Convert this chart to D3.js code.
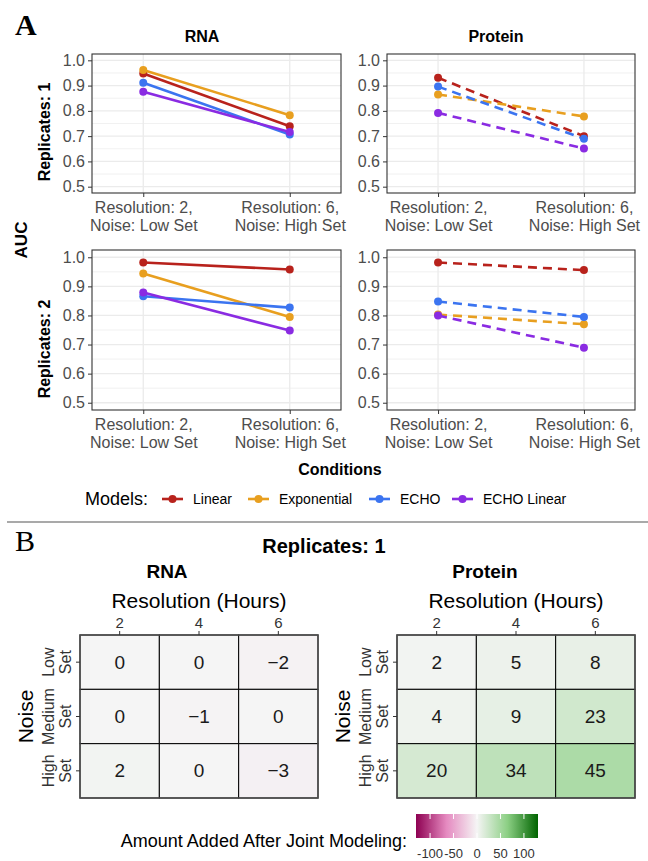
<!DOCTYPE html>
<html>
<head>
<meta charset="utf-8">
<script src="https://cdn.jsdelivr.net/npm/d3@7/dist/d3.min.js"></script>
<style>
  body { margin: 0; background: #fff; }
  text { font-family: "Liberation Sans", Arial, sans-serif; }
</style>
</head>
<body>
<div id="chart"></div>
<script>
// ---- data ----
const models = ["Linear", "Exponential", "ECHO", "ECHO Linear"];
const modelColors = ["#b8221c", "#e89f1f", "#3b74f0", "#8a2be2"];
const conditions = ["Resolution: 2,|Noise: Low Set", "Resolution: 6,|Noise: High Set"];
const aucTicks = [0.5, 0.6, 0.7, 0.8, 0.9, 1.0];

// AUC per model (same order as models), at each condition
const rnaRep1 = [[0.948, 0.739], [0.962, 0.783], [0.911, 0.706], [0.876, 0.716]];
const proteinRep1 = [[0.931, 0.700], [0.865, 0.778], [0.896, 0.690], [0.792, 0.651]];
const rnaRep2 = [[0.982, 0.958], [0.944, 0.795], [0.866, 0.827], [0.879, 0.748]];
const proteinRep2 = [[0.982, 0.956], [0.803, 0.770], [0.848, 0.795], [0.800, 0.689]];

const resolutions = [2, 4, 6];
const noiseLevels = ["Low|Set", "Medium|Set", "High|Set"];
const rnaAdded = [[0, 0, -2], [0, -1, 0], [2, 0, -3]];
const proteinAdded = [[2, 5, 8], [4, 9, 23], [20, 34, 45]];
const fillTicks = [-100, -50, 0, 50, 100];
const fillLimits = [-130, 130];

// ---- chart ----
var width = 648, height = 861;
var svg = d3.select("#chart").append("svg")
  .attr("width", width).attr("height", height)
  .style("background", "#fff");

// panel labels
svg.append("text").attr("x", 15).attr("y", 35)
  .style("font-family", "Liberation Serif, serif").style("font-weight", "bold")
  .style("font-size", "30px").text("A");
svg.append("text").attr("x", 15).attr("y", 551)
  .style("font-family", "Liberation Serif, serif")
  .style("font-size", "30px").text("B");

var panels = [
  { vals: rnaRep1, x: 92, y: 54, w: 249, h: 139, dashed: false, title: "RNA", titleX: 202 },
  { vals: proteinRep1, x: 387, y: 54, w: 248, h: 139, dashed: true, title: "Protein", titleX: 496 },
  { vals: rnaRep2, x: 92, y: 250, w: 249, h: 160, dashed: false },
  { vals: proteinRep2, x: 387, y: 250, w: 248, h: 160, dashed: true }
];

var minorTicks = [0.55, 0.65, 0.75, 0.85, 0.95];

panels.forEach(function (p) {
  var g = svg.append("g").attr("transform", "translate(" + p.x + "," + p.y + ")");
  var x = d3.scalePoint().domain(conditions).range([0, p.w]).padding(0.35);
  var y = d3.scaleLinear().domain([0.475, 1.025]).range([p.h, 0]);

  // grid
  g.selectAll(".minor").data(minorTicks).enter().append("line")
    .attr("x1", 0).attr("x2", p.w).attr("y1", y).attr("y2", y)
    .attr("stroke", "#ebebeb").attr("stroke-width", 0.7);
  g.selectAll(".major").data(aucTicks).enter().append("line")
    .attr("x1", 0).attr("x2", p.w).attr("y1", y).attr("y2", y)
    .attr("stroke", "#ebebeb").attr("stroke-width", 1.3);
  g.selectAll(".vmajor").data(conditions).enter().append("line")
    .attr("x1", x).attr("x2", x).attr("y1", 0).attr("y2", p.h)
    .attr("stroke", "#ebebeb").attr("stroke-width", 1.3);

  // lines then points
  var line = d3.line().x(function (d, j) { return x(conditions[j]); }).y(function (d) { return y(d); });
  p.vals.forEach(function (v, i) {
    g.append("path").datum(v).attr("d", line)
      .attr("fill", "none").attr("stroke", modelColors[i]).attr("stroke-width", 2.6)
      .attr("stroke-dasharray", p.dashed ? "9,6" : null);
  });
  p.vals.forEach(function (v, i) {
    g.selectAll(null).data(v).enter().append("circle")
      .attr("cx", function (d, j) { return x(conditions[j]); })
      .attr("cy", function (d) { return y(d); })
      .attr("r", 4).attr("fill", modelColors[i]);
  });

  // border
  g.append("rect").attr("width", p.w).attr("height", p.h)
    .attr("fill", "none").attr("stroke", "#333").attr("stroke-width", 1.1);

  // axes
  var yAxis = g.append("g").call(d3.axisLeft(y).tickValues(aucTicks).tickFormat(d3.format(".1f")).tickSize(4).tickPadding(3));
  yAxis.select(".domain").remove();
  yAxis.selectAll("line").attr("stroke", "#333");
  yAxis.selectAll("text").attr("fill", "#4d4d4d").style("font-size", "16px");

  var xAxis = g.append("g").attr("transform", "translate(0," + p.h + ")")
    .call(d3.axisBottom(x).tickSize(4).tickFormat(""));
  xAxis.select(".domain").remove();
  xAxis.selectAll("line").attr("stroke", "#333");
  xAxis.selectAll(".tick").each(function (d) {
    var parts = d.split("|");
    var t = d3.select(this).append("text").attr("fill", "#4d4d4d")
      .attr("text-anchor", "middle").style("font-size", "16px");
    t.append("tspan").attr("x", 0).attr("y", 20).text(parts[0]);
    t.append("tspan").attr("x", 0).attr("y", 38).text(parts[1]);
  });

  if (p.title) {
    svg.append("text").attr("x", p.titleX).attr("y", 42).attr("text-anchor", "middle")
      .style("font-weight", "bold").style("font-size", "16px").text(p.title);
  }
});

// row labels and axis titles
svg.append("text").attr("transform", "translate(50,132) rotate(-90)").attr("text-anchor", "middle")
  .style("font-weight", "bold").style("font-size", "16px").text("Replicates: 1");
svg.append("text").attr("transform", "translate(50,349) rotate(-90)").attr("text-anchor", "middle")
  .style("font-weight", "bold").style("font-size", "16px").text("Replicates: 2");
svg.append("text").attr("transform", "translate(27,240) rotate(-90)").attr("text-anchor", "middle")
  .style("font-weight", "bold").style("font-size", "17px").text("AUC");
svg.append("text").attr("x", 340).attr("y", 475).attr("text-anchor", "middle")
  .style("font-weight", "bold").style("font-size", "16px").text("Conditions");

// legend
var legend = svg.append("g").attr("transform", "translate(0,499)");
legend.append("text").attr("x", 85).attr("y", 6).style("font-size", "18px").text("Models:");
var keyX = [162, 248, 369, 452];
models.forEach(function (m, i) {
  legend.append("line").attr("x1", keyX[i]).attr("x2", keyX[i] + 21).attr("y1", 0).attr("y2", 0)
    .attr("stroke", modelColors[i]).attr("stroke-width", 2.6);
  legend.append("circle").attr("cx", keyX[i] + 10.5).attr("cy", 0).attr("r", 4).attr("fill", modelColors[i]);
  legend.append("text").attr("x", keyX[i] + 31).attr("y", 5).style("font-size", "14px").text(m);
});

// separator
svg.append("line").attr("x1", 7).attr("x2", 648).attr("y1", 522).attr("y2", 522)
  .attr("stroke", "#8c8c8c").attr("stroke-width", 1.5);

// ---- panel B ----
svg.append("text").attr("x", 324).attr("y", 553).attr("text-anchor", "middle")
  .style("font-weight", "bold").style("font-size", "20px").text("Replicates: 1");

var fill = d3.scaleLinear()
  .domain([-130, -65, 0, 65, 130])
  .range(["#8e0152", "#e58ac0", "#f5f5f5", "#8ccf84", "#006400"]);

var heatmaps = [
  { vals: rnaAdded, x: 80, title: "RNA", titleX: 167 },
  { vals: proteinAdded, x: 397, title: "Protein", titleX: 485 }
];

heatmaps.forEach(function (h) {
  var w = 238, hh = 163, top = 635;
  var g = svg.append("g").attr("transform", "translate(" + h.x + "," + top + ")");
  var x = d3.scaleBand().domain(resolutions).range([0, w]);
  var y = d3.scaleBand().domain(noiseLevels).range([0, hh]);

  h.vals.forEach(function (row, r) {
    g.selectAll(null).data(row).enter().append("rect")
      .attr("x", function (d, c) { return x(resolutions[c]); })
      .attr("y", y(noiseLevels[r]))
      .attr("width", x.bandwidth()).attr("height", y.bandwidth())
      .attr("fill", function (d) { return fill(d); })
      .attr("stroke", "#000").attr("stroke-width", 1);
    g.selectAll(null).data(row).enter().append("text")
      .attr("x", function (d, c) { return x(resolutions[c]) + x.bandwidth() / 2; })
      .attr("y", y(noiseLevels[r]) + y.bandwidth() / 2 + 6.5)
      .attr("text-anchor", "middle").attr("fill", "#1a1a1a").style("font-size", "19px")
      .text(function (d) { return d < 0 ? "\u2212" + Math.abs(d) : d; });
  });
  g.append("rect").attr("width", w).attr("height", hh)
    .attr("fill", "none").attr("stroke", "#4d4d4d").attr("stroke-width", 1.5);

  var xAxis = g.append("g").call(d3.axisTop(x).tickSize(4).tickPadding(3));
  xAxis.select(".domain").remove();
  xAxis.selectAll("line").attr("stroke", "#333");
  xAxis.selectAll("text").attr("fill", "#333").style("font-size", "15px");

  var yAxis = g.append("g").call(d3.axisLeft(y).tickSize(4).tickFormat(""));
  yAxis.select(".domain").remove();
  yAxis.selectAll("line").attr("stroke", "#333");
  yAxis.selectAll(".tick").each(function (d) {
    var parts = d.split("|");
    var t = d3.select(this).append("text").attr("transform", "rotate(-90)")
      .attr("text-anchor", "middle").attr("fill", "#333").style("font-size", "16px");
    t.append("tspan").attr("x", 0).attr("y", -26).text(parts[0]);
    t.append("tspan").attr("x", 0).attr("y", -9).text(parts[1]);
  });

  svg.append("text").attr("x", h.titleX).attr("y", 578).attr("text-anchor", "middle")
    .style("font-weight", "bold").style("font-size", "19px").text(h.title);
  svg.append("text").attr("x", h.x + w / 2).attr("y", 608).attr("text-anchor", "middle")
    .style("font-size", "21px").text("Resolution (Hours)");
  svg.append("text").attr("transform", "translate(" + (h.x - 47) + "," + (top + hh / 2) + ") rotate(-90)")
    .attr("text-anchor", "middle").style("font-size", "21px").text("Noise");
});

// colour bar
var cb = { x: 416, y: 814, w: 122, h: 24 };
var cbScale = d3.scaleLinear().domain(fillLimits).range([cb.x, cb.x + cb.w]);
var grad = svg.append("defs").append("linearGradient").attr("id", "cbgrad");
d3.range(0, 1.0001, 0.05).forEach(function (t) {
  grad.append("stop").attr("offset", t)
    .attr("stop-color", fill(fillLimits[0] + t * (fillLimits[1] - fillLimits[0])));
});
svg.append("rect").attr("x", cb.x).attr("y", cb.y).attr("width", cb.w).attr("height", cb.h)
  .attr("fill", "url(#cbgrad)");
fillTicks.forEach(function (v) {
  var xx = cbScale(v);
  svg.append("line").attr("x1", xx).attr("x2", xx).attr("y1", cb.y).attr("y2", cb.y + 5)
    .attr("stroke", "#fff").attr("stroke-width", 1);
  svg.append("line").attr("x1", xx).attr("x2", xx).attr("y1", cb.y + cb.h - 5).attr("y2", cb.y + cb.h)
    .attr("stroke", "#fff").attr("stroke-width", 1);
  svg.append("text").attr("x", xx).attr("y", 858).attr("text-anchor", "middle")
    .attr("fill", "#333").style("font-size", "13px")
    .text(v < 0 ? "-" + Math.abs(v) : v);
});
svg.append("text").attr("x", 407).attr("y", 847).attr("text-anchor", "end")
  .style("font-size", "18px").text("Amount Added After Joint Modeling:");
</script>
</body>
</html>
